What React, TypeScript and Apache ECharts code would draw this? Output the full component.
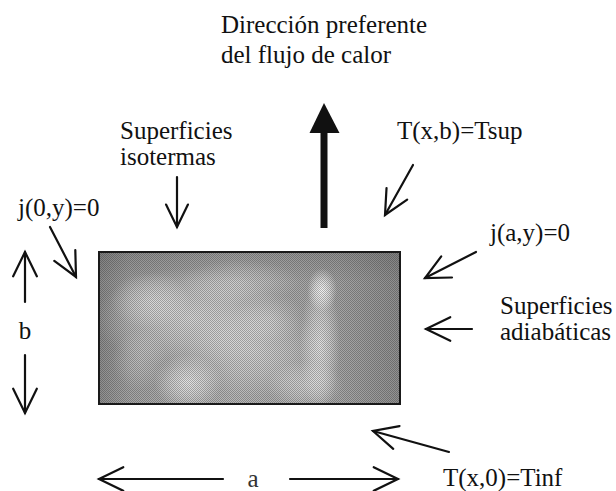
import React, { useEffect, useRef } from "react";
import * as echarts from "echarts";

// ---- texts of the diagram ----
const titleLines = ["Dirección preferente", "del flujo de calor"];
const isothermLines = ["Superficies", "isotermas"];
const adiabaticLines = ["Superficies", "adiabáticas"];
const boundaryLabels = ["T(x,b)=Tsup", "j(0,y)=0", "j(a,y)=0", "T(x,0)=Tinf"];
const dimensionLabels = ["a", "b"];

const FAMILY = "Liberation Serif, Times New Roman, serif";
const INK = "#111111";

function txt(x: number, cy: number, s: string, extra: any = {}) {
  return {
    type: "text",
    x,
    y: cy,
    style: {
      text: s,
      fontFamily: FAMILY,
      fontSize: 25,
      fill: INK,
      align: "left",
      verticalAlign: "middle",
      ...extra,
    },
    silent: true,
  };
}

function arrow(x1: number, y1: number, x2: number, y2: number, head = 27, ang = 26, w = 2.2) {
  const dx = x2 - x1;
  const dy = y2 - y1;
  const len = Math.hypot(dx, dy);
  const ux = dx / len;
  const uy = dy / len;
  const a = (ang * Math.PI) / 180;
  const rot = (t: number) => [
    x2 - head * (ux * Math.cos(t) - uy * Math.sin(t)),
    y2 - head * (ux * Math.sin(t) + uy * Math.cos(t)),
  ];
  const p1 = rot(a);
  const p2 = rot(-a);
  const st = { stroke: INK, lineWidth: w, lineCap: "round", lineJoin: "miter", fill: null };
  return [
    { type: "line", shape: { x1, y1, x2, y2 }, style: st, silent: true },
    { type: "polyline", shape: { points: [p1, [x2, y2], p2] }, style: st, silent: true },
  ];
}

function blob(cx: number, cy: number, rx: number, ry: number, alpha: number) {
  return {
    type: "ellipse",
    shape: { cx, cy, rx, ry },
    style: {
      fill: {
        type: "radial",
        x: 0.5,
        y: 0.5,
        r: 0.5,
        colorStops: [
          { offset: 0, color: `rgba(255,255,255,${alpha})` },
          { offset: 0.5, color: `rgba(255,255,255,${alpha * 0.6})` },
          { offset: 1, color: "rgba(255,255,255,0)" },
        ],
      },
    },
    silent: true,
  };
}

function makeDither(): any {
  const c = document.createElement("canvas");
  c.width = 4;
  c.height = 4;
  const ctx = c.getContext("2d");
  if (!ctx) return null;
  ctx.clearRect(0, 0, 4, 4);
  ctx.fillStyle = "rgba(30,30,30,0.3)";
  for (let y = 0; y < 4; y++) {
    for (let x = 0; x < 4; x++) {
      if ((x + y) % 2 === 0) ctx.fillRect(x, y, 1, 1);
    }
  }
  return c;
}

export default function App() {
  const ref = useRef<HTMLDivElement>(null);

  useEffect(() => {
    document.body.style.margin = "0";
    if (!ref.current) return;
    const chart = echarts.init(ref.current, undefined, { renderer: "svg" });

    const RX = 99, RY = 252, RW = 301, RH = 152;
    const dither = makeDither();

    const plate: any[] = [
      {
        type: "rect",
        shape: { x: RX, y: RY, width: RW, height: RH },
        style: {
          fill: {
            type: "linear",
            x: 0, y: 0, x2: 1, y2: 0,
            colorStops: [
              { offset: 0, color: "#8e8e8e" },
              { offset: 0.1, color: "#a6a6a6" },
              { offset: 0.45, color: "#b8b8b8" },
              { offset: 0.8, color: "#a8a8a8" },
              { offset: 1, color: "#909090" },
            ],
          },
        },
        silent: true,
      },
      {
        type: "rect",
        shape: { x: RX, y: RY, width: RW, height: RH },
        style: {
          fill: {
            type: "linear",
            x: 0, y: 0, x2: 0, y2: 1,
            colorStops: [
              { offset: 0, color: "rgba(90,90,90,0.3)" },
              { offset: 0.2, color: "rgba(90,90,90,0.05)" },
              { offset: 1, color: "rgba(90,90,90,0)" },
            ],
          },
        },
        silent: true,
      },
      blob(190, 318, 95, 50, 0.5),
      blob(255, 352, 70, 45, 0.42),
      blob(188, 382, 34, 28, 0.65),
      blob(322, 290, 15, 22, 0.85),
      blob(320, 345, 20, 68, 0.65),
      blob(305, 385, 38, 24, 0.45),
      blob(150, 300, 40, 28, 0.38),
      blob(240, 282, 60, 22, 0.3),
      blob(270, 318, 35, 25, 0.3),
      blob(140, 360, 28, 30, 0.25),
    ];
    if (dither) {
      plate.push({
        type: "rect",
        shape: { x: RX, y: RY, width: RW, height: RH },
        style: { fill: { image: dither, repeat: "repeat" } },
        silent: true,
      });
    }
    plate.push({
      type: "rect",
      shape: { x: RX, y: RY, width: RW, height: RH },
      style: { fill: null, stroke: "#1a1a1a", lineWidth: 2 },
      silent: true,
    });

    const graphics: any[] = [
      ...plate,
      // title
      txt(221, 24, titleLines[0]),
      txt(221, 54, titleLines[1]),
      // isotherm surfaces label + arrow
      txt(120, 130, isothermLines[0]),
      txt(120, 156, isothermLines[1]),
      ...arrow(177, 177, 177, 227, 25, 26),
      // main heat flow arrow
      {
        type: "rect",
        shape: { x: 320.5, y: 128, width: 7, height: 100 },
        style: { fill: INK },
        silent: true,
      },
      {
        type: "polygon",
        shape: { points: [[324, 103], [339.5, 133], [309.5, 133]] },
        style: { fill: INK },
        silent: true,
      },
      // T(x,b)
      txt(397, 130, boundaryLabels[0]),
      ...arrow(413, 165, 385, 215),
      // j(0,y)
      txt(18, 207, boundaryLabels[1]),
      ...arrow(50, 227, 76, 277),
      // j(a,y)
      txt(490, 232, boundaryLabels[2]),
      ...arrow(476, 252, 425, 278),
      // adiabatic surfaces
      txt(500, 305, adiabaticLines[0]),
      txt(500, 331, adiabaticLines[1]),
      ...arrow(472, 329, 426, 329),
      // T(x,0)
      ...arrow(449, 452, 373, 431),
      txt(443, 477, boundaryLabels[3]),
      // dimension b
      ...arrow(25, 302, 25, 252),
      txt(25, 330, dimensionLabels[1], { align: "center" }),
      ...arrow(25, 355, 25, 413),
      // dimension a
      ...arrow(223, 479, 99, 479),
      txt(253, 478, dimensionLabels[0], { align: "center", fill: "#333" }),
      ...arrow(290, 479, 398, 479),
    ];

    chart.setOption({
      animation: false,
      backgroundColor: "#ffffff",
      graphic: { elements: graphics },
    });

    return () => chart.dispose();
  }, []);

  return (
    <div
      ref={ref}
      style={{ position: "absolute", left: 0, top: 0, width: 616, height: 491 }}
    />
  );
}
